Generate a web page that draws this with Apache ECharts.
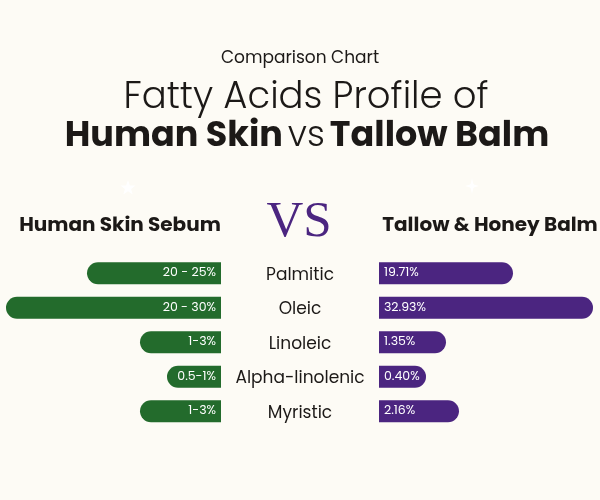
<!DOCTYPE html>
<html><head><meta charset="utf-8">
<script src="https://cdn.jsdelivr.net/npm/echarts@6/dist/echarts.min.js"></script>
<style>html,body{margin:0;padding:0;background:#fdfbf5;}#c{width:600px;height:500px;}</style>
</head><body><div id="c"></div>
<script>
// Data
const categories = ['Palmitic', 'Oleic', 'Linoleic', 'Alpha-linolenic', 'Myristic'];
const skinLabels = ['20 - 25%', '20 - 30%', '1-3%', '0.5-1%', '1-3%'];
const balmValues = [19.71, 32.93, 1.35, 0.40, 2.16];
// Drawn bar lengths (design units, as pictured; not proportional to the values)
const skinBarLength = [134, 215, 81, 54, 81];
const balmBarLength = [134, 214, 67, 47, 80];
const axisMax = 215;

const GREEN = '#236b2c', PURPLE = '#4b2580', INK = '#1c1917';
const FONT = 'Poppins, "Noto Sans", sans-serif';

const chart = echarts.init(document.getElementById('c'), null, {renderer: 'canvas'});
const rowTop = 256, rowH = 172.5;

chart.setOption({
  backgroundColor: '#fdfbf5',
  animation: false,
  title: [
    {text: 'Comparison Chart', left: 295, textAlign: 'center', top: 45,
     textStyle: {fontFamily: FONT, fontSize: 17, fontWeight: 400, color: INK}},
    {text: 'Fatty Acids Profile of', left: 301, textAlign: 'center', top: 75,
     textStyle: {fontFamily: FONT, fontSize: 37, fontWeight: 300, color: INK}},
    {text: '{b|Human Skin} {n|vs} {b|Tallow Balm}', left: 302, textAlign: 'center', top: 115,
     textStyle: {rich: {
       b: {fontFamily: FONT, fontSize: 35, fontWeight: 700, color: INK},
       n: {fontFamily: FONT, fontSize: 35, fontWeight: 300, color: INK}}}},
    {text: 'Human Skin Sebum', left: 115, textAlign: 'center', top: 211,
     textStyle: {fontFamily: FONT, fontSize: 20, fontWeight: 700, color: INK}},
    {text: 'Tallow & Honey Balm', left: 485, textAlign: 'center', top: 211,
     textStyle: {fontFamily: FONT, fontSize: 20, fontWeight: 700, color: INK}},
    {text: 'VS', left: 294, textAlign: 'center', top: 192,
     textStyle: {fontFamily: '"Liberation Serif", "DejaVu Serif", serif', fontSize: 51, fontWeight: 400, color: PURPLE}}
  ],
  graphic: [
    {type: 'polygon', x: 128, y: 188,
     shape: {points: [[0,-8],[1.9,-2.6],[7.6,-2.5],[3.1,1],[4.7,6.5],[0,3.2],[-4.7,6.5],[-3.1,1],[-7.6,-2.5],[-1.9,-2.6]]},
     style: {fill: '#ffffff'}},
    {type: 'polygon', x: 472, y: 186,
     shape: {points: [[0,-8],[1.2,-2.5],[2.5,-1.2],[7,0],[2.5,1.2],[1.2,2.5],[0,8],[-1.2,2.5],[-2.5,1.2],[-7,0],[-2.5,-1.2],[-1.2,-2.5]]},
     style: {fill: '#ffffff'}}
  ],
  grid: [
    {left: 6, width: 215, top: rowTop, height: rowH},
    {left: 379, width: 215, top: rowTop, height: rowH}
  ],
  xAxis: [
    {gridIndex: 0, type: 'value', min: 0, max: axisMax, inverse: true, show: false},
    {gridIndex: 1, type: 'value', min: 0, max: axisMax, show: false}
  ],
  yAxis: [
    {gridIndex: 0, type: 'category', data: categories, inverse: true, show: false},
    {gridIndex: 1, type: 'category', data: categories, inverse: true,
     axisLine: {show: false}, axisTick: {show: false},
     axisLabel: {margin: 79, align: 'center',
       formatter: v => '{c|' + v + '}',
       rich: {c: {fontFamily: FONT, fontSize: 17, color: INK, padding: [4, 0, 0, 0]}}}}
  ],
  series: [
    {type: 'bar', xAxisIndex: 0, yAxisIndex: 0, barWidth: 22,
     data: skinBarLength,
     itemStyle: {color: GREEN, borderRadius: [11, 0, 0, 11]},
     label: {show: true, position: 'insideRight', distance: 5, color: '#fff',
       fontFamily: FONT, fontSize: 12.5,
       formatter: p => skinLabels[p.dataIndex]}},
    {type: 'bar', xAxisIndex: 1, yAxisIndex: 1, barWidth: 22,
     data: balmBarLength,
     itemStyle: {color: PURPLE, borderRadius: [0, 11, 11, 0]},
     label: {show: true, position: 'insideLeft', distance: 5, color: '#fff',
       fontFamily: FONT, fontSize: 12.5,
       formatter: p => balmValues[p.dataIndex].toFixed(2) + '%'}}
  ]
});
</script></body></html>
